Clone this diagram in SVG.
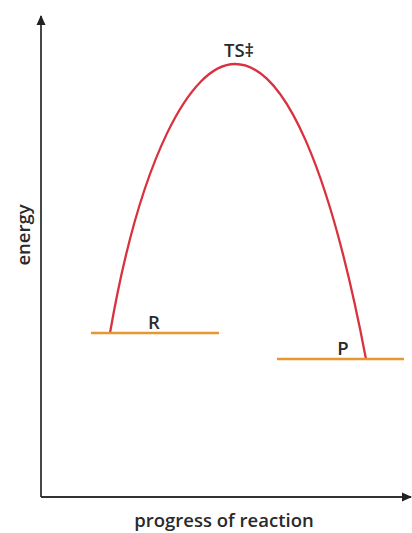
<svg xmlns="http://www.w3.org/2000/svg" width="412" height="533" viewBox="0 0 412 533">
<style>
.ax{stroke:#333;stroke-width:1.8;fill:none}
.lvl{stroke:#e8962e;stroke-width:2.6}
.t{font-family:"Open Sans","Noto Sans",sans-serif;font-size:18.5px;font-weight:600;fill:#2a2a2a}
</style>
<defs>
<marker id="ah" viewBox="0 0 10 10" refX="9" refY="5" markerWidth="10" markerHeight="12" markerUnits="userSpaceOnUse" orient="auto">
<path d="M0,0.5 L10,5 L0,9.5 Z" fill="#222"/>
</marker>
</defs>
<rect width="412" height="533" fill="#fff"/>
<g id="axes">
<line class="ax" x1="41" y1="497" x2="41" y2="16" marker-end="url(#ah)"/>
<line class="ax" x1="41" y1="497" x2="411" y2="497" marker-end="url(#ah)"/>
</g>
<g id="connectors">
<path d="M110,333 C140,160 190,64 235,64 C285,64 330,170 366,359" fill="none" stroke="#d8323f" stroke-width="2.3"/>
</g>
<g id="R"><line class="lvl" x1="91" y1="333" x2="219" y2="333"/><text class="t" x="154" y="329" text-anchor="middle">R</text></g>
<g id="P"><line class="lvl" x1="277" y1="359" x2="404" y2="359"/><text class="t" x="343" y="355" text-anchor="middle">P</text></g>
<g id="TS"><text class="t" x="239" y="57" text-anchor="middle">TS‡</text></g>
<text class="t" x="224" y="527" text-anchor="middle">progress of reaction</text>
<text class="t" transform="translate(30,235) rotate(-90)" text-anchor="middle">energy</text>
</svg>
